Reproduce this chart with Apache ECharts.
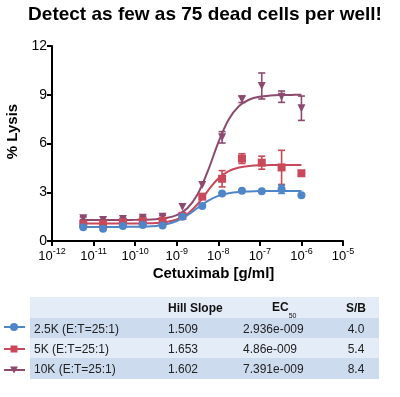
<!DOCTYPE html>
<html>
<head>
<meta charset="utf-8">
<script src="https://cdn.jsdelivr.net/npm/echarts@6/dist/echarts.min.js"></script>
<style>
  html, body { margin: 0; padding: 0; background: #fff; }
  #chart { width: 400px; height: 397px; }
</style>
</head>
<body>
<div id="chart"></div>
<script>
// cetuximab concentrations (g/ml), 1:3 dilution series
const conc = [5.645e-12, 1.694e-11, 5.081e-11, 1.524e-10, 4.572e-10, 1.372e-9, 4.115e-9, 1.235e-8, 3.704e-8, 1.111e-7, 3.333e-7, 1e-6]
// % lysis, mean and error
const lysis25K = [0.84, 0.76, 0.92, 0.98, 0.96, 1.50, 2.15, 2.93, 3.10, 3.06, 3.18, 2.81]
const err25K = [0, 0, 0, 0, 0, 0, 0, 0, 0, 0, 0.25, 0]
const lysis5K = [1.05, 1.05, 1.15, 1.22, 1.25, 1.55, 2.73, 3.83, 5.07, 4.82, 4.53, 4.17]
const err5K = [0, 0, 0, 0, 0, 0, 0, 0.5, 0.3, 0.4, 1.05, 0]
const lysis10K = [1.40, 1.30, 1.35, 1.43, 1.50, 2.10, 3.45, 6.38, 8.72, 9.54, 8.88, 8.17]
const err10K = [0.08, 0, 0.05, 0.08, 0.08, 0, 0, 0.35, 0.2, 0.8, 0.35, 0.75]

const curveConc = [5.62e-12, 1e-11, 1.78e-11, 3.16e-11, 5.62e-11, 1e-10, 1.78e-10, 3.16e-10, 5.62e-10, 1e-9, 1.78e-9, 3.16e-9, 5.62e-9, 1e-8, 1.78e-8, 3.16e-8, 5.62e-8, 1e-7, 1.78e-7, 3.16e-7, 5.62e-7, 1e-6]
const curve25K = [0.86, 0.86, 0.86, 0.86, 0.87, 0.87, 0.89, 0.93, 1.03, 1.23, 1.57, 2.03, 2.47, 2.78, 2.94, 3.02, 3.05, 3.07, 3.08, 3.08, 3.08, 3.08]
const curve5K = [1.07, 1.07, 1.07, 1.07, 1.07, 1.08, 1.09, 1.11, 1.17, 1.32, 1.65, 2.26, 3.09, 3.84, 4.30, 4.52, 4.62, 4.66, 4.67, 4.68, 4.68, 4.68]
const curve10K = [1.29, 1.29, 1.29, 1.29, 1.29, 1.30, 1.31, 1.34, 1.41, 1.59, 2.00, 2.86, 4.31, 6.06, 7.48, 8.31, 8.71, 8.88, 8.95, 8.98, 8.99, 9.00]

// table
const tableLabels = ['2.5K (E:T=25:1)', '5K (E:T=25:1)', '10K (E:T=25:1)']
const hillSlopes = ['1.509', '1.653', '1.602']
const ec50s = ['2.936e-009', '4.86e-009', '7.391e-009']
const sbRatios = ['4.0', '5.4', '8.4']

const FONT = "'Liberation Sans', Arial, Helvetica, sans-serif"
const colors = ['#4f86c9', '#c9485a', '#8b4a6e'] // 2.5K, 5K, 10K
const symbols = ['circle', 'rect', 'path://M0,0 L10,0 L5,10 Z']

const chart = echarts.init(document.getElementById('chart'))

const pts = (ys) => conc.map((c, i) => [c, ys[i]])
const curve = (ys) => curveConc.map((c, i) => [c, ys[i]])
const bars = (ys, es) => conc.map((c, i) => [c, ys[i] - es[i], ys[i] + es[i], es[i]]).filter(d => d[3] > 0)

function errorBar (color) {
  return function (params, api) {
    const x = api.value(0)
    const lo = api.coord([x, api.value(1)])
    const hi = api.coord([x, api.value(2)])
    const w = 3.5
    const style = { stroke: color, lineWidth: 1.6 }
    return {
      type: 'group',
      children: [
        { type: 'line', shape: { x1: lo[0], y1: lo[1], x2: hi[0], y2: hi[1] }, style },
        { type: 'line', shape: { x1: lo[0] - w, y1: lo[1], x2: lo[0] + w, y2: lo[1] }, style },
        { type: 'line', shape: { x1: hi[0] - w, y1: hi[1], x2: hi[0] + w, y2: hi[1] }, style }
      ]
    }
  }
}

const series = []
const order = [2, 1, 0] // draw 10K first, 2.5K on top
const allY = [lysis25K, lysis5K, lysis10K]
const allE = [err25K, err5K, err10K]
const allC = [curve25K, curve5K, curve10K]
order.forEach((k) => {
  series.push({
    type: 'line',
    data: curve(allC[k]),
    smooth: 0.35,
    showSymbol: false,
    silent: true,
    lineStyle: { color: colors[k], width: 2 },
    z: 2
  })
  series.push({
    type: 'custom',
    data: bars(allY[k], allE[k]),
    renderItem: errorBar(colors[k]),
    silent: true,
    z: 3
  })
  series.push({
    type: 'scatter',
    data: pts(allY[k]),
    symbol: symbols[k],
    symbolSize: 8,
    itemStyle: { color: colors[k], opacity: 1 },
    z: 4
  })
})

// table graphic
const tableLeft = 30
const tableRight = 379
const rowTops = [297, 318, 338, 358, 379]
const rowFill = ['#e4ecf7', '#cddbef', '#e4ecf7', '#cddbef']
const graphic = []
rowFill.forEach((fill, i) => {
  graphic.push({
    type: 'rect',
    shape: { x: tableLeft, y: rowTops[i], width: tableRight - tableLeft, height: rowTops[i + 1] - rowTops[i] },
    style: { fill },
    silent: true
  })
})
const headStyle = { fontFamily: FONT, fontSize: 12, fontWeight: 'bold', fill: '#111', verticalAlign: 'middle' }
graphic.push({ type: 'text', x: 168, y: 309, style: Object.assign({ text: 'Hill Slope', align: 'left' }, headStyle) })
graphic.push({
  type: 'text',
  x: 272,
  y: 309,
  style: Object.assign({
    text: '{b|EC}{s|50}',
    align: 'left',
    rich: {
      b: { fontFamily: FONT, fontSize: 12, fontWeight: 'bold', fill: '#111', lineHeight: 14, verticalAlign: 'top' },
      s: { fontFamily: FONT, fontSize: 7, fill: '#111', verticalAlign: 'bottom', padding: [0, 0, -4, 0] }
    }
  }, headStyle)
})
graphic.push({ type: 'text', x: 356, y: 309, style: Object.assign({ text: 'S/B', align: 'center' }, headStyle) })

const cellStyle = { fontFamily: FONT, fontSize: 12, fill: '#222', verticalAlign: 'middle' }
const rowMid = [330, 350, 370]
const iconMid = [327, 349, 370]
tableLabels.forEach((label, i) => {
  graphic.push({ type: 'text', x: 34, y: rowMid[i], style: Object.assign({ text: label, align: 'left' }, cellStyle) })
  graphic.push({ type: 'text', x: 168, y: rowMid[i], style: Object.assign({ text: hillSlopes[i], align: 'left' }, cellStyle) })
  graphic.push({ type: 'text', x: 243, y: rowMid[i], style: Object.assign({ text: ec50s[i], align: 'left' }, cellStyle) })
  graphic.push({ type: 'text', x: 356, y: rowMid[i], style: Object.assign({ text: sbRatios[i], align: 'center' }, cellStyle) })
  // legend icon
  const cy = iconMid[i]
  graphic.push({ type: 'line', shape: { x1: 4, y1: cy, x2: 25, y2: cy }, style: { stroke: colors[i], lineWidth: 2 } })
  if (i === 0) {
    graphic.push({ type: 'circle', shape: { cx: 14, cy, r: 4 }, style: { fill: colors[i] } })
  } else if (i === 1) {
    graphic.push({ type: 'rect', shape: { x: 10.5, y: cy - 3.5, width: 7, height: 7 }, style: { fill: colors[i] } })
  } else {
    graphic.push({ type: 'polygon', shape: { points: [[10, cy - 3.5], [18, cy - 3.5], [14, cy + 3.5]] }, style: { fill: colors[i] } })
  }
})

chart.setOption({
  animation: false,
  textStyle: { fontFamily: FONT },
  title: {
    text: 'Detect as few as 75 dead cells per well!',
    left: 200,
    textAlign: 'center',
    top: 0,
    textStyle: { fontFamily: FONT, fontSize: 19, fontWeight: 'bold', color: '#000' }
  },
  grid: { left: 52, right: 57, top: 46, bottom: 156, containLabel: false, outerBoundsMode: 'none' },
  xAxis: {
    type: 'log',
    logBase: 10,
    min: 1e-12,
    max: 1e-5,
    name: 'Cetuximab [g/ml]',
    nameLocation: 'middle',
    nameGap: 25,
    nameTextStyle: { fontFamily: FONT, fontSize: 15, fontWeight: 'bold', color: '#000', padding: [0, 0, 0, 32] },
    axisLine: { lineStyle: { color: '#000', width: 2 } },
    axisTick: { length: 5, lineStyle: { color: '#000', width: 2 } },
    minorTick: { show: false },
    splitLine: { show: false },
    axisLabel: {
      margin: 6,
      formatter: (v) => '{b|10}{s|' + Math.round(Math.log10(v)) + '}',
      rich: {
        b: { fontFamily: FONT, fontSize: 13, color: '#000', lineHeight: 16, verticalAlign: 'bottom' },
        s: { fontFamily: FONT, fontSize: 9, color: '#000', verticalAlign: 'top' }
      }
    }
  },
  yAxis: {
    type: 'value',
    min: 0,
    max: 12,
    interval: 3,
    name: '% Lysis',
    nameLocation: 'middle',
    nameGap: 19,
    nameTextStyle: { fontFamily: FONT, fontSize: 15, fontWeight: 'bold', color: '#000', padding: [0, 0, 0, 24] },
    axisLine: { show: true, lineStyle: { color: '#000', width: 2 } },
    axisTick: { show: true, length: 5, lineStyle: { color: '#000', width: 2 } },
    splitLine: { show: false },
    axisLabel: { margin: 5, fontFamily: FONT, fontSize: 14, color: '#000' }
  },
  series,
  graphic
})
</script>
</body>
</html>
